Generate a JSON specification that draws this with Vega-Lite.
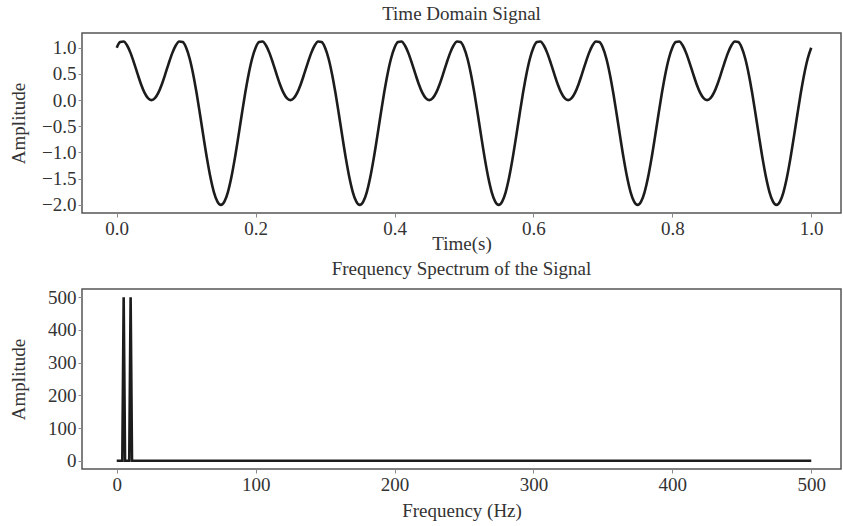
{
  "$schema": "https://vega.github.io/schema/vega-lite/v6.json",
  "autosize": {"type": "pad"},
  "padding": {"left": 8, "top": 4, "right": 0, "bottom": 0},
  "background": "white",
  "bounds": "flush",
  "spacing": 76,
  "config": {
    "font": "Liberation Serif",
    "view": {"stroke": "#555", "strokeWidth": 1.5},
    "axis": {
      "grid": false,
      "domain": false,
      "ticks": true,
      "tickColor": "#888",
      "tickSize": 4,
      "tickWidth": 1,
      "labelFont": "Liberation Serif",
      "labelFontSize": 19,
      "labelColor": "#333",
      "labelPadding": 2,
      "titleFont": "Liberation Serif",
      "titleFontSize": 19,
      "titleFontWeight": "normal",
      "titleColor": "#333"
    },
    "title": {"font": "Liberation Serif", "fontSize": 19, "fontWeight": "normal", "color": "#333", "offset": 9}
  },
  "datasets": {
    "signal": [
      {"t":0,"a":1},{"t":0.005,"a":1.1075},{"t":0.01,"a":1.118},{"t":0.015,"a":1.0418},{"t":0.02,"a":0.8968},{"t":0.025,"a":0.7071},{"t":0.03,"a":0.5},{"t":0.035,"a":0.3032},{"t":0.04,"a":0.1421},{"t":0.045,"a":0.0366},{"t":0.05,"a":0},{"t":0.055,"a":0.0366},{"t":0.06,"a":0.1421},{"t":0.065,"a":0.3032},{"t":0.07,"a":0.5},{"t":0.075,"a":0.7071},{"t":0.08,"a":0.8968},{"t":0.085,"a":1.0418},{"t":0.09,"a":1.118},{"t":0.095,"a":1.1075},{"t":0.1,"a":1},{"t":0.105,"a":0.7947},{"t":0.11,"a":0.5},{"t":0.115,"a":0.1338},{"t":0.12,"a":-0.2788},{"t":0.125,"a":-0.7071},{"t":0.13,"a":-1.118},{"t":0.135,"a":-1.4788},{"t":0.14,"a":-1.7601},{"t":0.145,"a":-1.9388},{"t":0.15,"a":-2},{"t":0.155,"a":-1.9388},{"t":0.16,"a":-1.7601},{"t":0.165,"a":-1.4788},{"t":0.17,"a":-1.118},{"t":0.175,"a":-0.7071},{"t":0.18,"a":-0.2788},{"t":0.185,"a":0.1338},{"t":0.19,"a":0.5},{"t":0.195,"a":0.7947},
      {"t":0.2,"a":1},{"t":0.205,"a":1.1075},{"t":0.21,"a":1.118},{"t":0.215,"a":1.0418},{"t":0.22,"a":0.8968},{"t":0.225,"a":0.7071},{"t":0.23,"a":0.5},{"t":0.235,"a":0.3032},{"t":0.24,"a":0.1421},{"t":0.245,"a":0.0366},{"t":0.25,"a":0},{"t":0.255,"a":0.0366},{"t":0.26,"a":0.1421},{"t":0.265,"a":0.3032},{"t":0.27,"a":0.5},{"t":0.275,"a":0.7071},{"t":0.28,"a":0.8968},{"t":0.285,"a":1.0418},{"t":0.29,"a":1.118},{"t":0.295,"a":1.1075},{"t":0.3,"a":1},{"t":0.305,"a":0.7947},{"t":0.31,"a":0.5},{"t":0.315,"a":0.1338},{"t":0.32,"a":-0.2788},{"t":0.325,"a":-0.7071},{"t":0.33,"a":-1.118},{"t":0.335,"a":-1.4788},{"t":0.34,"a":-1.7601},{"t":0.345,"a":-1.9388},{"t":0.35,"a":-2},{"t":0.355,"a":-1.9388},{"t":0.36,"a":-1.7601},{"t":0.365,"a":-1.4788},{"t":0.37,"a":-1.118},{"t":0.375,"a":-0.7071},{"t":0.38,"a":-0.2788},{"t":0.385,"a":0.1338},{"t":0.39,"a":0.5},{"t":0.395,"a":0.7947},
      {"t":0.4,"a":1},{"t":0.405,"a":1.1075},{"t":0.41,"a":1.118},{"t":0.415,"a":1.0418},{"t":0.42,"a":0.8968},{"t":0.425,"a":0.7071},{"t":0.43,"a":0.5},{"t":0.435,"a":0.3032},{"t":0.44,"a":0.1421},{"t":0.445,"a":0.0366},{"t":0.45,"a":0},{"t":0.455,"a":0.0366},{"t":0.46,"a":0.1421},{"t":0.465,"a":0.3032},{"t":0.47,"a":0.5},{"t":0.475,"a":0.7071},{"t":0.48,"a":0.8968},{"t":0.485,"a":1.0418},{"t":0.49,"a":1.118},{"t":0.495,"a":1.1075},{"t":0.5,"a":1},{"t":0.505,"a":0.7947},{"t":0.51,"a":0.5},{"t":0.515,"a":0.1338},{"t":0.52,"a":-0.2788},{"t":0.525,"a":-0.7071},{"t":0.53,"a":-1.118},{"t":0.535,"a":-1.4788},{"t":0.54,"a":-1.7601},{"t":0.545,"a":-1.9388},{"t":0.55,"a":-2},{"t":0.555,"a":-1.9388},{"t":0.56,"a":-1.7601},{"t":0.565,"a":-1.4788},{"t":0.57,"a":-1.118},{"t":0.575,"a":-0.7071},{"t":0.58,"a":-0.2788},{"t":0.585,"a":0.1338},{"t":0.59,"a":0.5},{"t":0.595,"a":0.7947},
      {"t":0.6,"a":1},{"t":0.605,"a":1.1075},{"t":0.61,"a":1.118},{"t":0.615,"a":1.0418},{"t":0.62,"a":0.8968},{"t":0.625,"a":0.7071},{"t":0.63,"a":0.5},{"t":0.635,"a":0.3032},{"t":0.64,"a":0.1421},{"t":0.645,"a":0.0366},{"t":0.65,"a":0},{"t":0.655,"a":0.0366},{"t":0.66,"a":0.1421},{"t":0.665,"a":0.3032},{"t":0.67,"a":0.5},{"t":0.675,"a":0.7071},{"t":0.68,"a":0.8968},{"t":0.685,"a":1.0418},{"t":0.69,"a":1.118},{"t":0.695,"a":1.1075},{"t":0.7,"a":1},{"t":0.705,"a":0.7947},{"t":0.71,"a":0.5},{"t":0.715,"a":0.1338},{"t":0.72,"a":-0.2788},{"t":0.725,"a":-0.7071},{"t":0.73,"a":-1.118},{"t":0.735,"a":-1.4788},{"t":0.74,"a":-1.7601},{"t":0.745,"a":-1.9388},{"t":0.75,"a":-2},{"t":0.755,"a":-1.9388},{"t":0.76,"a":-1.7601},{"t":0.765,"a":-1.4788},{"t":0.77,"a":-1.118},{"t":0.775,"a":-0.7071},{"t":0.78,"a":-0.2788},{"t":0.785,"a":0.1338},{"t":0.79,"a":0.5},{"t":0.795,"a":0.7947},
      {"t":0.8,"a":1},{"t":0.805,"a":1.1075},{"t":0.81,"a":1.118},{"t":0.815,"a":1.0418},{"t":0.82,"a":0.8968},{"t":0.825,"a":0.7071},{"t":0.83,"a":0.5},{"t":0.835,"a":0.3032},{"t":0.84,"a":0.1421},{"t":0.845,"a":0.0366},{"t":0.85,"a":0},{"t":0.855,"a":0.0366},{"t":0.86,"a":0.1421},{"t":0.865,"a":0.3032},{"t":0.87,"a":0.5},{"t":0.875,"a":0.7071},{"t":0.88,"a":0.8968},{"t":0.885,"a":1.0418},{"t":0.89,"a":1.118},{"t":0.895,"a":1.1075},{"t":0.9,"a":1},{"t":0.905,"a":0.7947},{"t":0.91,"a":0.5},{"t":0.915,"a":0.1338},{"t":0.92,"a":-0.2788},{"t":0.925,"a":-0.7071},{"t":0.93,"a":-1.118},{"t":0.935,"a":-1.4788},{"t":0.94,"a":-1.7601},{"t":0.945,"a":-1.9388},{"t":0.95,"a":-2},{"t":0.955,"a":-1.9388},{"t":0.96,"a":-1.7601},{"t":0.965,"a":-1.4788},{"t":0.97,"a":-1.118},{"t":0.975,"a":-0.7071},{"t":0.98,"a":-0.2788},{"t":0.985,"a":0.1338},{"t":0.99,"a":0.5},{"t":0.995,"a":0.7947},
      {"t":1.0,"a":1}
    ],
    "spectrum": [
      {"f":0,"amp":0},{"f":1,"amp":0},{"f":2,"amp":0},{"f":3,"amp":0},{"f":4,"amp":0},{"f":5,"amp":500},{"f":6,"amp":0},{"f":7,"amp":0},{"f":8,"amp":0},{"f":9,"amp":0},{"f":10,"amp":500},{"f":11,"amp":0},{"f":12,"amp":0},{"f":13,"amp":0},{"f":14,"amp":0},{"f":15,"amp":0},{"f":20,"amp":0},{"f":100,"amp":0},{"f":200,"amp":0},{"f":300,"amp":0},{"f":400,"amp":0},{"f":500,"amp":0}
    ]
  },
  "vconcat": [
    {
      "width": 759,
      "height": 180,
      "title": {"text": "Time Domain Signal"},
      "data": {"name": "signal"},
      "mark": {"type": "line", "color": "#1c1c1c", "strokeWidth": 2.6, "interpolate": "monotone", "clip": true},
      "encoding": {
        "x": {"field": "t", "type": "quantitative",
              "scale": {"domain": [-0.05, 1.0429], "nice": false, "zero": false},
              "axis": {"title": "Time(s)", "values": [0, 0.2, 0.4, 0.6, 0.8, 1.0], "format": ".1f", "titlePadding": -4}},
        "y": {"field": "a", "type": "quantitative",
              "scale": {"domain": [-2.156, 1.281], "nice": false, "zero": false},
              "axis": {"title": "Amplitude", "values": [-2, -1.5, -1, -0.5, 0, 0.5, 1], "format": ".1f", "titleX": -64, "titleBaseline": "middle"}}
      }
    },
    {
      "width": 759,
      "height": 180,
      "title": {"text": "Frequency Spectrum of the Signal"},
      "data": {"name": "spectrum"},
      "mark": {"type": "line", "color": "#1c1c1c", "strokeWidth": 2.6, "clip": true},
      "encoding": {
        "x": {"field": "f", "type": "quantitative",
              "scale": {"domain": [-25, 521.4], "nice": false, "zero": false},
              "axis": {"title": "Frequency (Hz)", "values": [0, 100, 200, 300, 400, 500], "titlePadding": 7}},
        "y": {"field": "amp", "type": "quantitative",
              "scale": {"domain": [-25, 525], "nice": false, "zero": false},
              "axis": {"title": "Amplitude", "values": [0, 100, 200, 300, 400, 500], "titleX": -64, "titleBaseline": "middle"}}
      }
    }
  ]
}
